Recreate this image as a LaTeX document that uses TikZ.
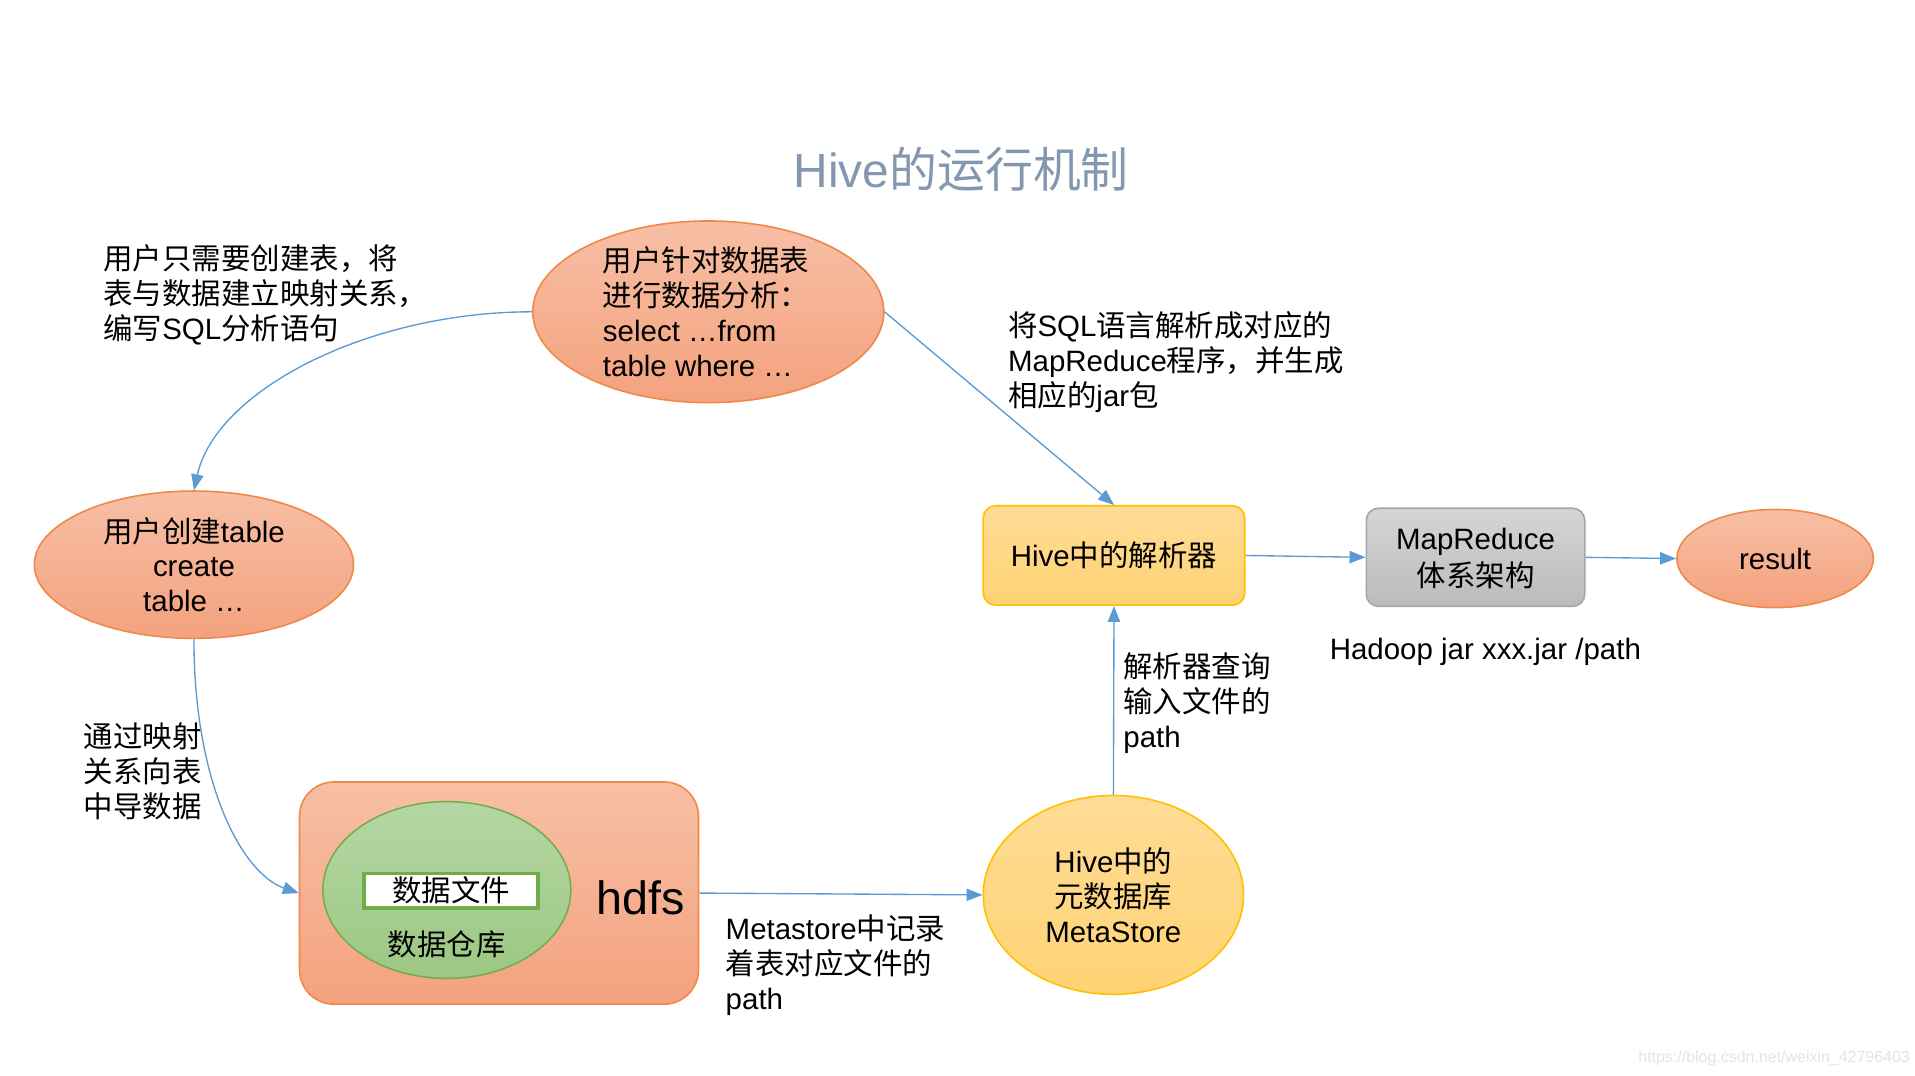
\documentclass[tikz,border=0pt]{standalone}
\usepackage{fontspec}
\setmainfont{Liberation Sans}
\newfontfamily\cjkf{Noto Sans CJK SC}
\newfontfamily\latf{Liberation Sans}
\newXeTeXintercharclass\CJKcls
\makeatletter
\count@="3000
\loop\XeTeXcharclass\count@=\CJKcls\advance\count@ 1\ifnum\count@<"3040\repeat
\count@="4E00
\loop\XeTeXcharclass\count@=\CJKcls\advance\count@ 1\ifnum\count@<"A000\repeat
\count@="FF00
\loop\XeTeXcharclass\count@=\CJKcls\advance\count@ 1\ifnum\count@<"FFF0\repeat
\makeatother
\XeTeXinterchartoks 0 \CJKcls = {\cjkf}
\XeTeXinterchartoks 4095 \CJKcls = {\cjkf}
\XeTeXinterchartoks \CJKcls 0 = {\latf}
\XeTeXinterchartoks \CJKcls 4095 = {\latf}
\XeTeXinterchartokenstate=1
\usetikzlibrary{shapes.geometric,arrows.meta}
\definecolor{arrowc}{HTML}{5B9BD5}
\definecolor{orabd}{HTML}{F0884A}
\definecolor{oratop}{HTML}{F7BFA5}
\definecolor{orabot}{HTML}{F4A27E}
\definecolor{yeltop}{HTML}{FFDC96}
\definecolor{yelbot}{HTML}{FFD374}
\definecolor{yelbd}{HTML}{FFC000}
\definecolor{grntop}{HTML}{B4D7A4}
\definecolor{grnbot}{HTML}{9CC783}
\definecolor{grnbd}{HTML}{70AD47}
\definecolor{gratop}{HTML}{D5D5D5}
\definecolor{grabot}{HTML}{BBBBBB}
\definecolor{grabd}{HTML}{A6A6A6}
\definecolor{titlec}{HTML}{8497B0}
\definecolor{wmc}{HTML}{E4E4E4}
\tikzset{
  txt/.style={inner sep=0pt, align=left, anchor=west, font=\fontsize{24}{28.5}\selectfont},
  ctxt/.style={inner sep=0pt, align=center, font=\fontsize{24}{28.5}\selectfont},
  orangeell/.style={ellipse, draw=orabd, line width=1.3pt, top color=oratop, bottom color=orabot, inner sep=0pt},
  yelell/.style={ellipse, draw=yelbd, line width=1.3pt, top color=yeltop, bottom color=yelbot, inner sep=0pt},
  yelbox/.style={rectangle, rounded corners=10pt, draw=yelbd, line width=1.3pt, top color=yeltop, bottom color=yelbot, inner sep=0pt},
  graybox/.style={rectangle, rounded corners=10pt, draw=grabd, line width=1.3pt, top color=gratop, bottom color=grabot, inner sep=0pt},
  hdfsbox/.style={rectangle, rounded corners=28pt, draw=orabd, line width=1.3pt, top color=oratop, bottom color=orabot, inner sep=0pt},
  greenell/.style={ellipse, draw=grnbd, line width=1.2pt, top color=grntop, bottom color=grnbot, inner sep=0pt},
  conn/.style={draw=arrowc, line width=1.1pt, -{Triangle[length=13pt,width=10pt]}}
}
\begin{document}
\begin{tikzpicture}[x=1pt,y=-1pt]
\useasboundingbox[fill=white] (0,0) rectangle (1560,876);

\node[inner sep=0pt, text=titlec, font=\fontsize{39}{44}\selectfont] (title) at (783,138) {Hive的运行机制};

% shapes
\node[orangeell, minimum width=286pt, minimum height=148pt] (tq) at (577,254) {};
\node[orangeell, minimum width=260pt, minimum height=120pt] (lq) at (158,460) {};
\node[hdfsbox, minimum width=325pt, minimum height=181pt] (hdfs) at (406.5,727.5) {};
\node[greenell, minimum width=202pt, minimum height=144pt] (wh) at (364,725) {};
\node[rectangle, draw=grnbd, line width=3pt, fill=white, minimum width=142pt, minimum height=28pt, inner sep=0pt] (df) at (367.5,725.5) {};
\node[yelell, minimum width=212pt, minimum height=162pt] (ms) at (907,729) {};
\node[yelbox, minimum width=213pt, minimum height=81pt] (ps) at (907.5,452.5) {};
\node[graybox, minimum width=178pt, minimum height=80pt] (mr) at (1202,454) {};
\node[orangeell, minimum width=160pt, minimum height=80pt] (res) at (1446,455) {};

% texts in shapes
\node[txt] (tqt) at (491,254) {用户针对数据表\\进行数据分析：\\select …from\\table where …};
\node[ctxt] (lqt) at (158,460) {用户创建table\\create\\table …};
\node[ctxt] (dft) at (367.5,725) {数据文件};
\node[ctxt] (wht) at (364,769) {数据仓库};
\node[inner sep=0pt, font=\fontsize{38}{42}\selectfont] (hdfst) at (522,731) {hdfs};
\node[ctxt] (mst) at (907,729) {Hive中的\\元数据库\\MetaStore};
\node[ctxt] (pst) at (907.5,452.5) {Hive中的解析器};
\node[ctxt, font=\fontsize{24}{30}\selectfont] (mrt) at (1202,455) {MapReduce\\体系架构};
\node[ctxt] (rest) at (1446,455) {result};

% labels
\node[txt] (l1) at (84,240) {用户只需要创建表，将\\表与数据建立映射关系，\\编写SQL分析语句};
\node[txt] (l2) at (68,628) {通过映射\\关系向表\\中导数据};
\node[txt] (l3) at (591,786) {Metastore中记录\\着表对应文件的\\path};
\node[txt] (l4) at (915,573) {解析器查询\\输入文件的\\path};
\node[txt] (l5) at (821,295) {将SQL语言解析成对应的\\MapReduce程序，并生成\\相应的jar包};
\node[ctxt] (l6) at (1210,531) {Hadoop jar xxx.jar /path};

\node[inner sep=0pt, anchor=east, text=wmc, font=\fontsize{13}{15}\selectfont] (wm) at (1556,862) {https://blog.csdn.net/weixin\_42796403};

% connectors
\draw[conn] (tq.west) .. controls (300,254) and (176,318) .. (lq.north);
\draw[conn] (lq.south) .. controls (158,640) and (198,712) .. (hdfs.west);
\draw[conn] (hdfs.east) -- (ms.west);
\draw[conn] (ms.north) -- (ps.south);
\draw[conn] (tq.east) -- (ps.north);
\draw[conn] (ps.east) -- (mr.west);
\draw[conn] (mr.east) -- (res.west);
\end{tikzpicture}
\end{document}
